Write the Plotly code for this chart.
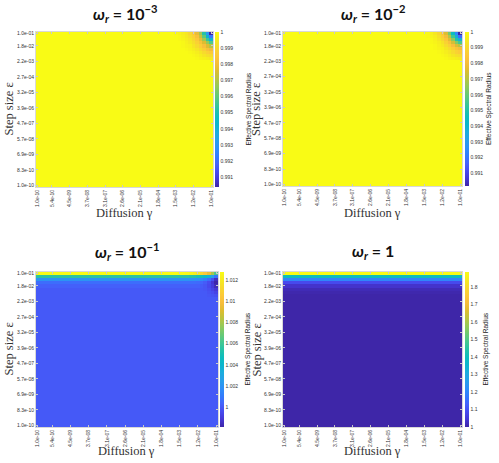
import numpy as np
import plotly.graph_objects as go

# grid: 50 log-spaced values for gamma (x) and epsilon (y), index 0 = 1e-10, 49 = 1e-1
N_GRID = 50
X_TICK_IDX = [0, 4, 9, 14, 19, 24, 29, 34, 39, 44, 49]
X_TICK_TEXT = ["1.0e-10", "5.4e-10", "4.5e-09", "3.7e-08", "3.1e-07", "2.6e-06",
               "2.1e-05", "1.8e-04", "1.5e-03", "1.2e-02", "1.0e-01"]
Y_TICK_IDX = [0, 5, 10, 15, 20, 25, 30, 35, 40, 45, 49]
Y_TICK_TEXT = ["1.0e-10", "8.3e-10", "6.9e-09", "5.7e-08", "4.7e-07", "3.9e-06",
               "3.2e-05", "2.7e-04", "2.2e-03", "1.8e-02", "1.0e-01"]

TITLES = ["10<sup>−3</sup>", "10<sup>−2</sup>", "10<sup>−1</sup>", "1"]

# bulk value of each panel
BULK = [1.0, 1.0, 1.0, 1.0]

# top rows (eps = 1e-1 first), uniform along gamma
TOP_ROWS_3 = [1.0128, 1.0056, 1.0020, 1.0006, 1.0002]
TOP_ROWS_4 = [1.886, 1.40, 1.20, 1.085, 1.035, 1.014, 1.005]

# top-right corner blocks: rows eps index 49..41 (top first), cols gamma index 39..49
CORNER_1 = [
    [0.9999, 0.9998, 0.9996, 0.9994, 0.9990, 0.9985, 0.9978, 0.9968, 0.9952, 0.9930, 0.9904],
    [1.0, 0.9999, 0.9997, 0.9995, 0.9992, 0.9988, 0.9982, 0.9973, 0.9960, 0.9942, 0.9922],
    [1.0, 0.9999, 0.9998, 0.9996, 0.9994, 0.9990, 0.9985, 0.9978, 0.9968, 0.9955, 0.9941],
    [1.0, 1.0, 0.9999, 0.9997, 0.9995, 0.9992, 0.9988, 0.9983, 0.9976, 0.9967, 0.9958],
    [1.0, 1.0, 0.9999, 0.9998, 0.9997, 0.9994, 0.9991, 0.9987, 0.9982, 0.9976, 0.9971],
    [1.0, 1.0, 1.0, 0.9999, 0.9998, 0.9996, 0.9994, 0.9991, 0.9987, 0.9983, 0.9980],
    [1.0, 1.0, 1.0, 1.0, 0.9999, 0.9998, 0.9996, 0.9994, 0.9991, 0.9988, 0.9986],
    [1.0, 1.0, 1.0, 1.0, 1.0, 0.9999, 0.9998, 0.9996, 0.9994, 0.9992, 0.9991],
    [1.0, 1.0, 1.0, 1.0, 1.0, 1.0, 0.9999, 0.9998, 0.9997, 0.9996, 0.9995],
]
CORNER_2 = [
    [1.0, 0.9999, 0.9997, 0.9994, 0.9990, 0.9984, 0.9975, 0.9962, 0.9945, 0.9925, 0.9902],
    [1.0, 0.9999, 0.9998, 0.9996, 0.9992, 0.9987, 0.9980, 0.9970, 0.9955, 0.9938, 0.9918],
    [1.0, 1.0, 0.9999, 0.9997, 0.9994, 0.9990, 0.9984, 0.9976, 0.9965, 0.9951, 0.9938],
    [1.0, 1.0, 0.9999, 0.9998, 0.9996, 0.9993, 0.9988, 0.9982, 0.9974, 0.9964, 0.9956],
    [1.0, 1.0, 1.0, 0.9999, 0.9997, 0.9995, 0.9991, 0.9987, 0.9981, 0.9975, 0.9970],
    [1.0, 1.0, 1.0, 0.9999, 0.9998, 0.9997, 0.9994, 0.9991, 0.9987, 0.9983, 0.9980],
    [1.0, 1.0, 1.0, 1.0, 0.9999, 0.9998, 0.9996, 0.9994, 0.9991, 0.9988, 0.9986],
    [1.0, 1.0, 1.0, 1.0, 1.0, 0.9999, 0.9998, 0.9996, 0.9994, 0.9992, 0.9991],
    [1.0, 1.0, 1.0, 1.0, 1.0, 1.0, 0.9999, 0.9998, 0.9997, 0.9996, 0.9995],
]
CORNER_3 = [
    [1.0128, 1.0127, 1.0125, 1.0122, 1.0118, 1.0112, 1.0105, 1.0095, 1.0080, 1.0062],
    [1.0056, 1.0056, 1.0055, 1.0054, 1.0052, 1.0049, 1.0044, 1.0036, 1.0024, 1.0008],
    [1.0020, 1.0020, 1.0020, 1.0019, 1.0018, 1.0016, 1.0012, 1.0006, 0.9997, 0.9985],
    [1.0006, 1.0006, 1.0006, 1.0006, 1.0005, 1.0004, 1.0001, 0.9996, 0.9988, 0.9981],
    [1.0002, 1.0002, 1.0002, 1.0002, 1.0002, 1.0001, 0.9999, 0.9995, 0.9990, 0.9984],
    [1.0, 1.0, 1.0, 1.0, 1.0, 1.0, 0.9999, 0.9997, 0.9993, 0.9989],
    [1.0, 1.0, 1.0, 1.0, 1.0, 1.0, 1.0, 0.9998, 0.9996, 0.9993],
    [1.0, 1.0, 1.0, 1.0, 1.0, 1.0, 1.0, 0.9999, 0.9998, 0.9997],
]

PARULA = [
    [0.00, "rgb(62,38,168)"], [0.05, "rgb(69,55,213)"], [0.10, "rgb(71,75,239)"],
    [0.15, "rgb(68,99,252)"], [0.20, "rgb(50,124,252)"], [0.25, "rgb(46,143,247)"],
    [0.30, "rgb(39,159,233)"], [0.35, "rgb(28,172,221)"], [0.40, "rgb(12,181,205)"],
    [0.45, "rgb(13,189,189)"], [0.50, "rgb(38,194,166)"], [0.55, "rgb(71,199,143)"],
    [0.60, "rgb(107,201,115)"], [0.65, "rgb(148,201,89)"], [0.70, "rgb(186,196,64)"],
    [0.75, "rgb(222,189,48)"], [0.80, "rgb(247,189,59)"], [0.85, "rgb(252,201,56)"],
    [0.90, "rgb(247,217,46)"], [0.95, "rgb(245,235,31)"], [1.00, "rgb(249,251,21)"],
]

CB_TICKS = [(1.0, 0.001), (1.0, 0.001), (1.0, 0.002), (1.0, 0.1)]

# pixel layout (499 x 463 canvas)
W, H = 499, 463
PLOT_X = [(36, 213), (283, 462), (36, 218), (283, 462)]
PLOT_Y = [(32, 187), (32, 186), (272, 427), (272, 427)]
CB_X = [215, 465, 220, 465]
CB_TITLE_X = [248, 489, 247, 485]
XTITLE_Y = [213, 213, 451, 451]
YTITLE_X = [8, 256, 8, 256]

SERIF = "Liberation Serif, DejaVu Serif, serif"
SANS = "Liberation Sans, Arial, sans-serif"


def panel_z(bulk, top_rows=None, corner=None):
    z = np.full((N_GRID, N_GRID), bulk, dtype=float)
    if top_rows:
        for k, v in enumerate(top_rows):
            z[N_GRID - 1 - k, :] = v
    if corner:
        block = np.array(corner)[::-1]
        r, c = block.shape
        z[N_GRID - r:, N_GRID - c:] = block
    return z


panels = [
    panel_z(BULK[0], corner=CORNER_1),
    panel_z(BULK[1], corner=CORNER_2),
    panel_z(BULK[2], top_rows=TOP_ROWS_3, corner=CORNER_3),
    panel_z(BULK[3], top_rows=TOP_ROWS_4),
]

idx = list(range(N_GRID))
fig = go.Figure()
layout = {}
annotations = []
for i, z in enumerate(panels):
    n = i + 1
    suf = "" if n == 1 else str(n)
    x0, x1 = PLOT_X[i]
    y0, y1 = PLOT_Y[i]
    ydom = [1 - y1 / H, 1 - y0 / H]
    ymid = (ydom[0] + ydom[1]) / 2
    tick0, dtick = CB_TICKS[i]
    fig.add_trace(go.Heatmap(
        z=z, x=idx, y=idx,
        xaxis="x" + suf, yaxis="y" + suf,
        colorscale=PARULA,
        colorbar=dict(
            x=CB_X[i] / W, xanchor="left", xpad=0, ypad=0,
            y=ymid, yanchor="middle",
            len=ydom[1] - ydom[0], lenmode="fraction",
            thickness=4, outlinewidth=0,
            tick0=tick0, dtick=dtick, ticks="",
            tickfont=dict(size=5, family=SANS, color="#333"),
        ),
    ))
    axis_common = dict(showline=True, linecolor="#d8d8d8", linewidth=1, mirror="ticks",
                       ticks="inside", ticklen=2, tickcolor="#c8c8c8",
                       showgrid=False, zeroline=False, automargin=False,
                       range=[-0.5, N_GRID - 0.5])
    layout["xaxis" + suf] = dict(
        domain=[x0 / W, x1 / W], anchor="y" + suf,
        tickmode="array", tickvals=X_TICK_IDX, ticktext=X_TICK_TEXT, tickangle=-90,
        tickfont=dict(size=5, family=SANS, color="#333"),
        **axis_common,
    )
    layout["yaxis" + suf] = dict(
        domain=ydom, anchor="x" + suf,
        tickmode="array", tickvals=Y_TICK_IDX, ticktext=Y_TICK_TEXT,
        tickfont=dict(size=5, family=SANS, color="#333"),
        **axis_common,
    )
    # axis titles
    annotations.append(dict(
        text="Diffusion γ", x=(x0 + x1) / 2 / W, y=1 - XTITLE_Y[i] / H,
        xref="paper", yref="paper", xanchor="center", yanchor="middle", showarrow=False,
        font=dict(size=12.5, family=SERIF, color="#333"),
    ))
    annotations.append(dict(
        text="Step size ε", x=YTITLE_X[i] / W, y=ymid, textangle=-90,
        xref="paper", yref="paper", xanchor="center", yanchor="middle", showarrow=False,
        font=dict(size=12.5, family=SERIF, color="#333"),
    ))
    # colorbar title
    annotations.append(dict(
        text="Effective Spectral Radius", x=CB_TITLE_X[i] / W, y=ymid, textangle=-90,
        xref="paper", yref="paper", xanchor="center", yanchor="middle", showarrow=False,
        font=dict(size=6.5, family=SANS, color="#222"),
    ))
    # panel title
    ty = 13 if i < 2 else 251
    annotations.append(dict(
        text="<b><i>ω</i><sub><i>r</i></sub> = " + TITLES[i] + "</b>",
        x=(x0 + x1) / 2 / W, y=1 - ty / H, xref="paper", yref="paper",
        xanchor="center", yanchor="middle", showarrow=False,
        font=dict(size=16, family="Lato, Open Sans, sans-serif", color="#111"),
    ))

fig.update_layout(
    width=W, height=H,
    margin=dict(l=0, r=0, t=0, b=0),
    paper_bgcolor="white", plot_bgcolor="white",
    annotations=annotations,
    **layout,
)
# drop the default 8px body margin so the figure sits at the page origin
fig.write_html(
    "out.html",
    config={"displayModeBar": False},
    post_script="document.body.style.margin = '0';",
)
